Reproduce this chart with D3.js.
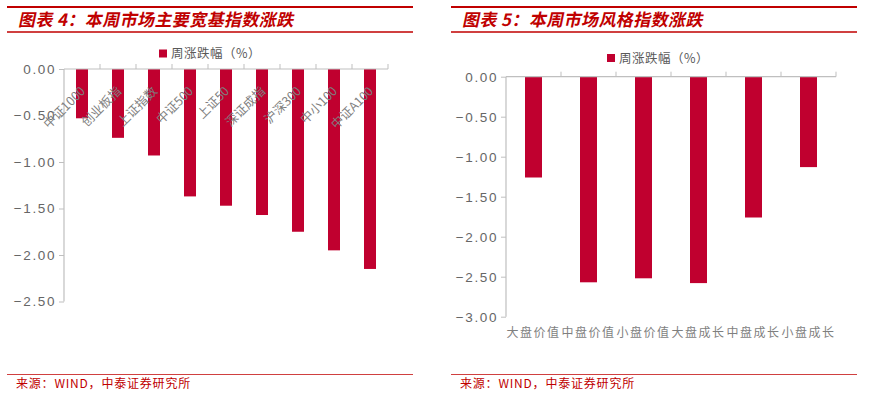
<!DOCTYPE html>
<html><head><meta charset="utf-8">
<script src="https://cdn.jsdelivr.net/npm/d3@7/dist/d3.min.js"></script>
<style>body{margin:0;background:#fff;}svg{display:block;}</style>
</head><body>
<svg id="c" width="881" height="401"></svg>
<script>
const titleLeft = "图表 4：本周市场主要宽基指数涨跌";
const titleRight = "图表 5：本周市场风格指数涨跌";
const legendLabel = "周涨跌幅（%）";
const sourceText = "来源：WIND，中泰证券研究所";

const leftCategories = ["中证1000","创业板指","上证指数","中证500","上证50","深证成指","沪深300","中小100","中证A100"];
const leftValues = [-0.53,-0.74,-0.93,-1.37,-1.47,-1.57,-1.75,-1.95,-2.15];
const leftTicks = [0,-0.5,-1,-1.5,-2,-2.5];

const rightCategories = ["大盘价值","中盘价值","小盘价值","大盘成长","中盘成长","小盘成长"];
const rightValues = [-1.26,-2.57,-2.52,-2.58,-1.76,-1.13];
const rightTicks = [0,-0.5,-1,-1.5,-2,-2.5,-3];

const RED = "#c00000";
const BAR = "#c0002f";
const AX = "#bfbfbf";
const svg = d3.select("#c");

function header(x0, x1, title, tx) {
  svg.append("line").attr("x1",x0).attr("x2",x1).attr("y1",7).attr("y2",7).attr("stroke",RED).attr("stroke-width",2);
  svg.append("line").attr("x1",x0).attr("x2",x1).attr("y1",32).attr("y2",32).attr("stroke",RED).attr("stroke-width",1.3);
  svg.append("text").attr("x",tx).attr("y",26).text(title)
    .attr("fill",RED).attr("font-family","'Noto Sans CJK SC', sans-serif").attr("font-weight","bold")
    .attr("font-size",17).attr("letter-spacing",0.4)
    .attr("transform",`translate(${26*Math.tan(12*Math.PI/180)},0) skewX(-12)`);
  svg.append("line").attr("x1",x0).attr("x2",x1).attr("y1",374.5).attr("y2",374.5).attr("stroke","#d04040").attr("stroke-width",1);
  svg.append("text").attr("x",tx-2).attr("y",388).text(sourceText)
    .attr("fill",RED).attr("font-family","'Noto Sans CJK SC', sans-serif").attr("font-size",12).attr("letter-spacing",0.8);
}

function legend(x, y) {
  svg.append("rect").attr("x",x).attr("y",y-4).attr("width",8).attr("height",8).attr("fill",BAR);
  svg.append("text").attr("x",x+12).attr("y",y+4.5).text(legendLabel)
    .attr("fill","#595959").attr("font-family","'Noto Sans CJK SC', sans-serif").attr("font-size",12.5).attr("letter-spacing",0.5);
}

function chart(cats, vals, ticks, opt) {
  const x = d3.scaleBand().domain(cats).range([opt.x0, opt.x1]);
  const y = d3.scaleLinear().domain([0, ticks[ticks.length-1]]).range([opt.y0, opt.y1]);
  const g = svg.append("g");
  const ya = g.append("g").attr("transform",`translate(${opt.x0},0)`)
    .call(d3.axisLeft(y).tickValues(ticks).tickSize(5).tickPadding(3).tickFormat(d3.format(".2f")));
  ya.select(".domain").attr("stroke",AX).attr("stroke-width",1.2).attr("d",`M0,${opt.y0}V${opt.y1}`);
  ya.selectAll(".tick line").attr("stroke",AX);
  ya.selectAll(".tick text").attr("fill","#666666").attr("font-size",13.5)
    .attr("font-family","'Liberation Sans', Arial, sans-serif").attr("letter-spacing",1.6);
  const bw = opt.bw;
  g.selectAll("rect.bar").data(vals).join("rect").attr("class","bar")
    .attr("x",(d,i)=>x(cats[i]) + x.bandwidth()/2 - bw/2)
    .attr("y",y(0)).attr("width",bw).attr("height",d=>y(d)-y(0)).attr("fill",BAR);
  g.append("line").attr("x1",opt.x0).attr("x2",opt.x1).attr("y1",y(0)).attr("y2",y(0)).attr("stroke",AX).attr("stroke-width",1.2);
  const bounds = cats.map(c=>x(c)).slice(1).concat([opt.x1]);
  g.selectAll("line.xt").data(bounds).join("line").attr("class","xt")
    .attr("x1",d=>d).attr("x2",d=>d).attr("y1",y(0)).attr("y2",y(0)-5).attr("stroke",AX);
  if (opt.rotate) {
    g.selectAll("text.xl").data(cats).join("text").attr("class","xl")
      .attr("transform",c=>`translate(${x(c)+x.bandwidth()/2+4},${y(0)+23}) rotate(-45)`)
      .attr("text-anchor","end").text(c=>c)
      .attr("fill","#7f7f7f").attr("font-size",12.5).attr("font-family","'Noto Sans CJK SC', sans-serif");
  } else {
    g.selectAll("text.xl").data(cats).join("text").attr("class","xl")
      .attr("x",c=>x(c)+x.bandwidth()/2).attr("y",opt.y1+20)
      .attr("text-anchor","middle").text(c=>c).attr("letter-spacing",1.5)
      .attr("fill","#7f7f7f").attr("font-size",12).attr("font-family","'Noto Sans CJK SC', sans-serif");
  }
}

header(7, 413, titleLeft, 18);
header(451, 857, titleRight, 462);
legend(159, 53.5);
legend(607, 58);
chart(leftCategories, leftValues, leftTicks, {x0:64, x1:388, y0:69, y1:301.5, bw:12, rotate:true});
chart(rightCategories, rightValues, rightTicks, {x0:506, x1:836, y0:76.7, y1:316.7, bw:17, rotate:false});
</script>
</body></html>
